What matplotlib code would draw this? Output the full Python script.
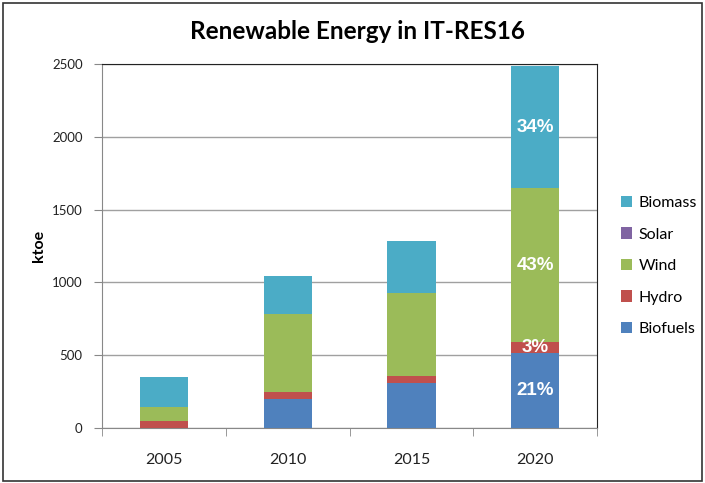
import numpy as np
import matplotlib.pyplot as plt
from matplotlib.patches import Rectangle

years = ['2005', '2010', '2015', '2020']
biofuels = [0, 200, 307, 517]
hydro = [50, 47, 50, 73]
wind = [92, 536, 570, 1058]
solar = [0, 0, 0, 0]
biomass = [206, 261, 357, 838]
pct_2020 = ['21%', '3%', '43%', '', '34%']

names = ['Biofuels', 'Hydro', 'Wind', 'Solar', 'Biomass']
colors = ['#4F81BD', '#C0504D', '#9BBB59', '#8064A2', '#4BACC6']
series = [biofuels, hydro, wind, solar, biomass]

plt.rcParams['font.family'] = ['Lato', 'DejaVu Sans']

fig = plt.figure(figsize=(7.05, 4.83), dpi=100)
ax = fig.add_axes([0.1447, 0.1139, 0.7021, 0.7536])

x = np.arange(len(years))
bottom = np.zeros(len(years))
handles = []
for name, col, vals in zip(names, colors, series):
    vals = np.array(vals, dtype=float)
    b = ax.bar(x, vals, 0.39, bottom=bottom, color=col, label=name, zorder=3)
    handles.append(b)
    bottom += vals

# percentage labels on the 2020 bar
bottom = 0
for vals, txt in zip(series, pct_2020):
    v = vals[3]
    if txt:
        ax.text(3, bottom + v / 2, txt, ha='center', va='center', color='white',
                fontsize=13.5, fontweight='bold', family=['Liberation Sans'], zorder=4)
    bottom += v

ax.set_xlim(-0.5, 3.5)
ax.set_ylim(0, 2500)
ax.set_yticks(np.arange(0, 2501, 500))
ax.set_xticks(x)
ax.set_xticklabels(years, fontsize=11.5, color='#222222')
ax.set_xticks(np.arange(-0.5, 4, 1), minor=True)
ax.tick_params(axis='x', which='major', length=0, pad=18)
ax.tick_params(axis='x', which='minor', length=6, color='#888888', direction='out')
ax.tick_params(axis='y', length=6, labelsize=9.5, pad=8, colors='#888888', labelcolor='#222222')
ax.grid(axis='y', color='#a0a0a0', linewidth=1, zorder=0)

ax.spines['left'].set_color('#888888')
ax.spines['bottom'].set_color('#888888')
ax.spines['top'].set_color('#222222')
ax.spines['right'].set_color('#222222')

ax.set_ylabel('ktoe', fontsize=11.5, fontweight='bold', labelpad=4)
fig.suptitle('Renewable Energy in IT-RES16', x=0.507, y=0.958, fontsize=17.5, fontweight='bold')

ax.legend(handles[::-1], names[::-1], loc='center left', bbox_to_anchor=(1.02, 0.445),
          frameon=False, fontsize=11.5, handlelength=0.7, handleheight=0.7,
          labelspacing=1.08, handletextpad=0.4)

fig.patches.append(Rectangle((0.004, 0.004), 0.992, 0.99, transform=fig.transFigure,
                             fill=False, edgecolor='#333333', linewidth=1.2))

fig.savefig('out.png', dpi=100)
